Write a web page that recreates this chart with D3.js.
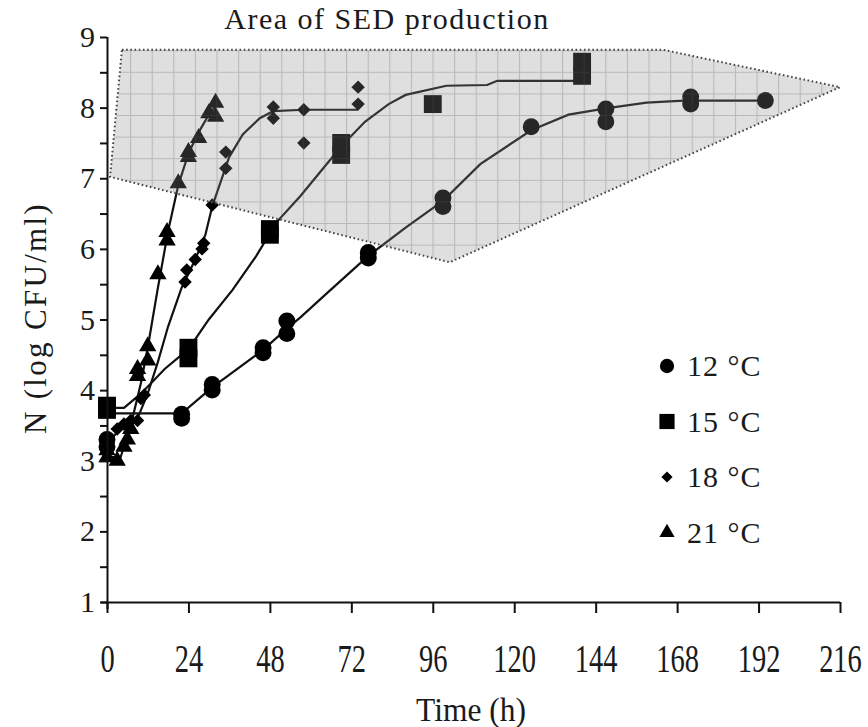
<!DOCTYPE html>
<html>
<head>
<meta charset="utf-8">
<script src="https://cdn.jsdelivr.net/npm/d3@7"></script>
<style>
  body { margin: 0; background: #fff; }
  text { font-family: "Liberation Serif", serif; fill: #1a1a1a; }
</style>
</head>
<body>
<script>
var WIDTH = 868,
    HEIGHT = 727;

// 12 °C
var time12 = [0, 0, 22, 22, 31, 31, 46, 46, 53, 53, 77, 77, 99, 99, 125, 147, 147, 172, 172, 194],
    logN12 = [3.3, 3.2, 3.6, 3.66, 4.0, 4.08, 4.53, 4.6, 4.8, 4.98, 5.87, 5.95, 6.6, 6.72, 7.73, 7.8, 7.98, 8.05, 8.15, 8.1],
    fitTime12 = [0, 22, 31, 46, 53, 57, 65, 77, 88, 99, 110, 125, 136, 147, 159, 170, 194],
    fitLogN12 = [3.67, 3.67, 4.04, 4.57, 4.87, 5.03, 5.38, 5.9, 6.3, 6.68, 7.2, 7.68, 7.9, 7.99, 8.07, 8.1, 8.1];

// 15 °C
var time15 = [0, 0, 24, 24, 48, 48, 69, 69, 96, 140, 140],
    logN15 = [3.72, 3.78, 4.45, 4.6, 6.2, 6.28, 7.33, 7.5, 8.05, 8.45, 8.65],
    fitTime15 = [0, 5, 10, 17, 24, 30, 37, 44, 50, 57, 63, 69, 76, 83, 88, 100, 112, 115, 140, 140],
    fitLogN15 = [3.75, 3.75, 3.95, 4.3, 4.58, 5.0, 5.42, 5.9, 6.38, 6.75, 7.1, 7.45, 7.8, 8.05, 8.18, 8.31, 8.32, 8.38, 8.38, 8.55];

// 18 °C
var time18 = [0, 0, 3, 5, 7, 9, 10, 11, 23, 23.5, 26, 28, 28.5, 31, 35, 35, 49, 49, 58, 58, 74, 74],
    logN18 = [3.25, 3.3, 3.45, 3.52, 3.57, 3.57, 3.88, 3.93, 5.53, 5.7, 5.85, 6.0, 6.08, 6.62, 7.14, 7.37, 7.85, 8.01, 7.5, 7.97, 8.05, 8.29],
    fitTime18 = [0, 4, 9, 12, 15, 18, 22, 26, 29, 31, 36, 40, 45, 49, 58, 74],
    fitLogN18 = [3.25, 3.45, 3.6, 3.95, 4.4, 4.9, 5.45, 5.85, 6.2, 6.6, 7.3, 7.62, 7.85, 7.95, 7.97, 7.97];

// 21 °C
var time21 = [0, 0, 3, 5, 6, 7, 9, 9, 12, 12, 15, 17.7, 17.7, 21, 24, 24, 27, 30, 32, 32],
    logN21 = [3.05, 3.15, 3.0, 3.2, 3.3, 3.45, 4.2, 4.3, 4.42, 4.62, 5.64, 6.12, 6.24, 6.93, 7.3, 7.37, 7.57, 7.92, 7.87, 8.07],
    fitTime21 = [0, 4, 7, 10, 12, 15, 18, 21, 24, 27, 30, 32.5],
    fitLogN21 = [3.05, 3.05, 3.5, 4.1, 4.6, 5.45, 6.25, 6.9, 7.35, 7.65, 7.9, 8.05];

// area of SED production
var areaTime = [4.4, 163.8, 216, 101, 0.9],
    areaLogN = [8.82, 8.82, 8.29, 5.81, 7.02];

var xTicks = [0, 24, 48, 72, 96, 120, 144, 168, 192, 216],
    yTicks = [1, 1.5, 2, 2.5, 3, 3.5, 4, 4.5, 5, 5.5, 6, 6.5, 7, 7.5, 8, 8.5, 9];

var series = [
  { label: "12 °C", time: time12, logN: logN12, fitTime: fitTime12, fitLogN: fitLogN12, symbol: d3.symbolCircle, size: 225, legendSize: 160 },
  { label: "15 °C", time: time15, logN: logN15, fitTime: fitTime15, fitLogN: fitLogN15, symbol: d3.symbolSquare, size: 320, legendSize: 230 },
  { label: "18 °C", time: time18, logN: logN18, fitTime: fitTime18, fitLogN: fitLogN18, symbol: d3.symbolDiamond2, size: 115, legendSize: 80 },
  { label: "21 °C", time: time21, logN: logN21, fitTime: fitTime21, fitLogN: fitLogN21, symbol: d3.symbolTriangle, size: 130, legendSize: 100 }
];

var x = d3.scaleLinear().domain([0, 216]).range([107, 840]),
    y = d3.scaleLinear().domain([1, 9]).range([602, 37]);

var svg = d3.select("body").append("svg")
      .attr("width", WIDTH)
      .attr("height", HEIGHT);

// hatch pattern for the shaded area
var defs = svg.append("defs");
var pat = defs.append("pattern")
  .attr("id", "grid")
  .attr("patternUnits", "userSpaceOnUse")
  .attr("x", 0.5)
  .attr("y", 7)
  .attr("width", 21.6)
  .attr("height", 21.6);
pat.append("rect")
  .attr("width", 21.6).attr("height", 21.6)
  .attr("fill", "#8a8a8a").attr("fill-opacity", 0.28);
pat.append("path")
  .attr("d", "M0.5,0V21.6M0,0.5H21.6")
  .attr("stroke", "#555").attr("stroke-opacity", 0.28)
  .attr("stroke-width", 1.2);

// fitted curves
var line = d3.line()
  .x(function(d) { return x(d[0]); })
  .y(function(d) { return y(d[1]); });

svg.selectAll(".fit").data(series).enter().append("path")
  .attr("class", "fit")
  .attr("fill", "none")
  .attr("stroke", "#111")
  .attr("stroke-width", 2.2)
  .attr("d", function(s) { return line(d3.zip(s.fitTime, s.fitLogN)); });

// observations
series.forEach(function(s) {
  var sym = d3.symbol().type(s.symbol).size(s.size);
  svg.append("g").selectAll("path").data(d3.zip(s.time, s.logN)).enter().append("path")
    .attr("d", sym)
    .attr("fill", "#000")
    .attr("transform", function(d) { return "translate(" + x(d[0]) + "," + y(d[1]) + ")"; });
});

// shaded area drawn over the data
svg.append("path")
  .attr("d", line(d3.zip(areaTime, areaLogN)) + "Z")
  .attr("fill", "url(#grid)")
  .attr("stroke", "#444")
  .attr("stroke-width", 2)
  .attr("stroke-dasharray", "1.6,2.6");

svg.append("text")
  .attr("x", 387).attr("y", 29)
  .attr("text-anchor", "middle")
  .style("font-size", "30px")
  .style("letter-spacing", "1.5px")
  .text("Area of SED production");

// axes
var xAxis = svg.append("g")
  .attr("transform", "translate(0," + y(1) + ")")
  .call(d3.axisBottom(x).tickValues(xTicks).tickSize(11));
xAxis.select(".domain").attr("d", "M101,0.5H" + x(216));
xAxis.selectAll(".tick text")
  .attr("y", 0).attr("dy", null)
  .attr("transform", "translate(0,70) scale(0.95,1.3)")
  .style("font-size", "30px");

var yAxis = svg.append("g")
  .attr("transform", "translate(" + x(0) + ",0)")
  .call(d3.axisLeft(y).tickValues(yTicks).tickSize(7).tickPadding(5)
    .tickFormat(function(d) { return d % 1 === 0 ? d : ""; }));
yAxis.select(".domain").attr("d", "M0.5," + y(9) + "V" + (y(1) + 7));
yAxis.selectAll(".tick text").style("font-size", "30px");

svg.selectAll(".tick line, .domain").attr("stroke", "#111").attr("stroke-width", 2);
svg.selectAll(".tick text").attr("fill", "#1a1a1a");

svg.append("text")
  .attr("text-anchor", "middle")
  .attr("transform", "translate(471,721) scale(1.05,1.15)")
  .style("font-size", "30px")
  .text("Time (h)");

svg.append("text")
  .attr("transform", "translate(46,318) rotate(-90)")
  .attr("text-anchor", "middle")
  .style("font-size", "31px")
  .style("letter-spacing", "2.3px")
  .text("N (log CFU/ml)");

// legend
var legend = svg.selectAll(".legend").data(series).enter().append("g")
  .attr("class", "legend")
  .attr("transform", function(d, i) { return "translate(667," + (366 + i * 55.5) + ")"; });
legend.append("path")
  .attr("d", function(s) { return d3.symbol().type(s.symbol).size(s.legendSize)(); })
  .attr("fill", "#000");
legend.append("text")
  .attr("x", 20).attr("y", 10)
  .style("font-size", "30px")
  .style("letter-spacing", "1px")
  .text(function(s) { return s.label; });
</script>
</body>
</html>
